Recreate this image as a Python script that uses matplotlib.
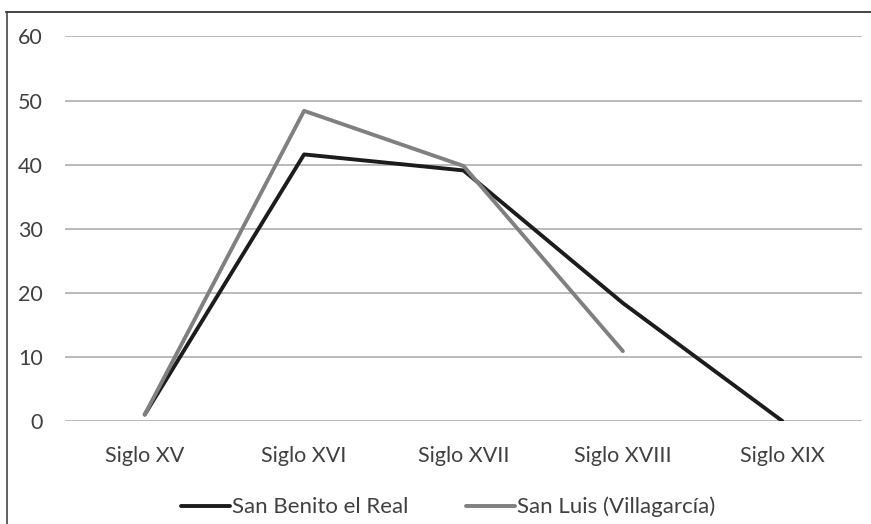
import matplotlib.pyplot as plt
from matplotlib.lines import Line2D

categories = ["Siglo XV", "Siglo XVI", "Siglo XVII", "Siglo XVIII", "Siglo XIX"]
san_benito = [1, 41.6, 39.1, 18.4, 0]
san_luis = [1, 48.4, 39.8, 10.9]
yticks = [0, 10, 20, 30, 40, 50, 60]

plt.rcParams['font.family'] = ['Lato', 'DejaVu Sans']
text_color = '#404040'

fig = plt.figure(figsize=(8.71, 5.24), dpi=100)
ax = fig.add_axes([65 / 871, 1 - 421 / 524, (862 - 65) / 871, (421 - 36.5) / 524])

x = list(range(len(categories)))
ax.plot(x, san_benito, color='#1c1c1c', lw=2.8, label='San Benito el Real', solid_capstyle='round')
ax.plot(x[:len(san_luis)], san_luis, color='#808080', lw=2.8, label='San Luis (Villagarc\u00eda)', solid_capstyle='round')

ax.set_xlim(-0.5, 4.5)
ax.set_ylim(0, 60)
ax.set_yticks(yticks)
ax.set_xticks(x)
ax.set_xticklabels(categories)
ax.grid(axis='y', color='#b4b4b4', lw=1.3)
ax.set_axisbelow(True)
for s in ax.spines.values():
    s.set_visible(False)
ax.tick_params(length=0, labelsize=15.5, colors=text_color)
ax.tick_params(axis='x', pad=18)
ax.tick_params(axis='y', pad=16)

leg = fig.legend(loc='center', bbox_to_anchor=(448 / 871, 1 - 507 / 524), ncol=2, frameon=False,
                 fontsize=16, handlelength=2.2, columnspacing=2.6, handletextpad=0.1)
for t in leg.get_texts():
    t.set_color(text_color)

# border around the figure
fig.add_artist(Line2D([6 / 871, 1], [1 - 12 / 524, 1 - 12 / 524], transform=fig.transFigure, color='#222222', lw=1.2))
fig.add_artist(Line2D([6.5 / 871, 6.5 / 871], [0, 1 - 12 / 524], transform=fig.transFigure, color='#444444', lw=1.2))

fig.savefig('out.png', dpi=100, facecolor='white')
